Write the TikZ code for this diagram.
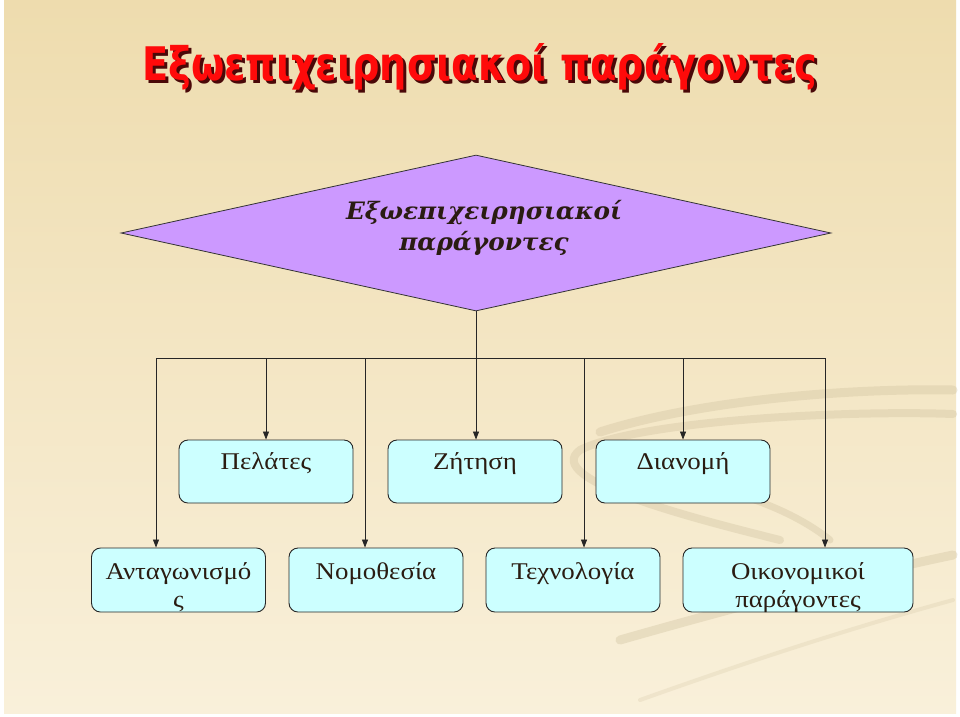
\documentclass[tikz,border=0pt]{standalone}
\usepackage{fontspec}
\setmainfont{Liberation Serif}
\newfontfamily\titlefont{DejaVu Sans}
\newfontfamily\diafont{DejaVu Serif}
\usetikzlibrary{shapes.geometric,arrows.meta}
\definecolor{bgtop}{HTML}{EEDCAE}
\definecolor{bgmid}{HTML}{F7EBCD}
\definecolor{bgbot}{HTML}{F9F0DA}
\definecolor{diac}{HTML}{CC99FF}
\definecolor{boxc}{HTML}{CCFFFF}
\definecolor{ttl}{HTML}{FF0A0A}
\definecolor{shd}{HTML}{4A0808}
\definecolor{swo}{HTML}{D2C4A2}
\definecolor{txt}{HTML}{2A1C12}
\newcommand\widetext[2]{\scalebox{#1}[1]{\begin{tabular}{@{}c@{}}#2\end{tabular}}}
\begin{document}
\begin{tikzpicture}[x=1pt,y=-1pt,
  box/.style={draw=black!85, fill=boxc, rounded corners=9pt, line width=0.9pt,
    minimum width=174pt, minimum height=63pt, inner sep=0pt},
  lbl/.style={font=\fontsize{24}{28}\selectfont, text=txt, inner sep=0pt},
  conn/.style={draw=black!85, line width=0.8pt},
  arr/.style={conn, -{Triangle[length=8pt,width=6pt]}},
  swoosh/.style={draw=swo, line cap=round, opacity=0.4},
]
\useasboundingbox (0,0) rectangle (960,716);
\fill[white] (0,0) rectangle (960,716);
\shade[top color=bgtop, middle color=bgmid, bottom color=bgbot] (4,0) rectangle (956,713);

% faint background swooshes
\draw[swoosh, line width=9pt] (600,432) .. controls (700,400) and (850,388) .. (953,390);
\draw[swoosh, line width=8pt] (953,414) .. controls (850,410) and (640,420) .. (580,450)
      .. controls (540,480) and (700,520) .. (780,540);
\draw[swoosh, line width=7pt] (620,470) .. controls (700,480) and (780,500) .. (830,540);
\draw[swoosh, line width=9pt] (620,640) .. controls (760,600) and (880,570) .. (953,555);
\draw[swoosh, line width=4pt, opacity=0.25] (640,700) .. controls (780,650) and (880,620) .. (953,600);

% title
\node[anchor=base, text=shd, inner sep=0pt] (titleshadow) at (483,83)
  {\titlefont\bfseries\resizebox{675pt}{37pt}{Εξωεπιχειρησιακοί παράγοντες}};
\node[anchor=base, text=ttl, inner sep=0pt] (title) at (480,80)
  {\titlefont\bfseries\resizebox{675pt}{37pt}{Εξωεπιχειρησιακοί παράγοντες}};

% diamond
\node[diamond, draw=black!80, fill=diac, line width=0.8pt, minimum width=710pt,
  minimum height=156pt, inner sep=0pt] (dia) at (476,233) {};
\node[font=\diafont\fontsize{24}{31}\selectfont\bfseries\itshape, text=txt, inner sep=0pt]
  (diatext) at (484,229) {\widetext{1.03}{Εξωεπιχειρησιακοί\\παράγοντες}};

% bus
\coordinate (c1) at (156,358);
\coordinate (c2) at (266,358);
\coordinate (c3) at (365,358);
\coordinate (c4) at (476,358);
\coordinate (c5) at (584,358);
\coordinate (c6) at (683,358);
\coordinate (c7) at (825,358);
\draw[conn] (dia.south) -- (c4);
\draw[conn] (c1) -- (c7);

% top row
\node[box] (pel) at (266,471.5) {};
\node[box] (zit) at (475,471.5) {};
\node[box] (dian) at (683,471.5) {};
\node[lbl] (pelT) at (266,464) {\widetext{1.12}{Πελάτες}};
\node[lbl] (zitT) at (475,464) {\widetext{1.12}{Ζήτηση}};
\node[lbl] (dianT) at (683,464) {\widetext{1.12}{Διανομή}};

% bottom row
\node[box, minimum height=64pt] (ant) at (178.5,580) {};
\node[box, minimum height=64pt] (nom) at (376,580) {};
\node[box, minimum height=64pt] (tech) at (573,580) {};
\node[box, minimum height=64pt, minimum width=230pt] (oik) at (798,580) {};
\node[lbl] (antT) at (178.5,588) {\widetext{1.12}{Ανταγωνισμό\\ς}};
\node[lbl] (nomT) at (376,574) {\widetext{1.12}{Νομοθεσία}};
\node[lbl] (techT) at (573,574) {\widetext{1.12}{Τεχνολογία}};
\node[lbl] (oikT) at (798,588) {\widetext{1.12}{Οικονομικοί\\παράγοντες}};

% arrows
\draw[arr] (c2) -- (pel.north);
\draw[arr] (c4) -- (c4 |- zit.north);
\draw[arr] (c6) -- (dian.north);
\draw[arr] (c1) -- (c1 |- ant.north);
\draw[arr] (c3) -- (c3 |- nom.north);
\draw[arr] (c5) -- (c5 |- tech.north);
\draw[arr] (c7) -- (c7 |- oik.north);
\end{tikzpicture}
\end{document}
